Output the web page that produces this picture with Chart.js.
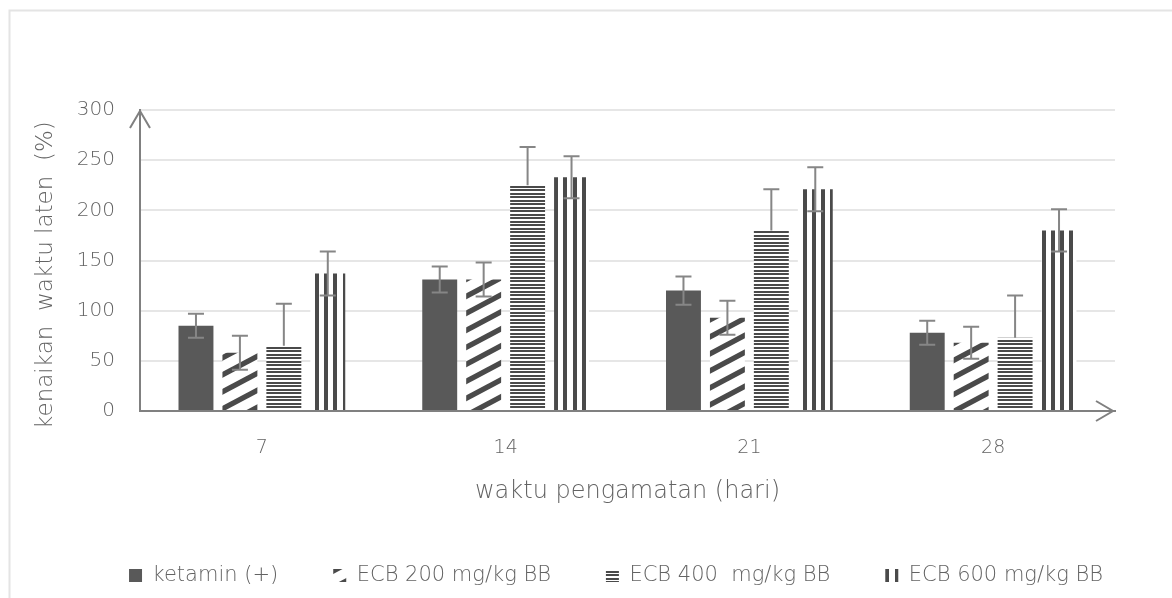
<!DOCTYPE html>
<html><head><meta charset="utf-8">
<script src="https://cdn.jsdelivr.net/npm/chart.js@4.4.1/dist/chart.umd.min.js"></script>
<style>html,body{margin:0;padding:0;background:#fff;overflow:hidden}#wrap{width:1172px;height:598px;position:relative}canvas{display:block}</style>
</head><body><div id="wrap"><canvas id="c" width="1172" height="598"></canvas></div>
<script>
const categories = ['7', '14', '21', '28'];
const seriesNames = ['ketamin (+)', 'ECB 200 mg/kg BB', 'ECB 400  mg/kg BB', 'ECB 600 mg/kg BB'];
const ketamin = [85, 131, 120, 78];
const ecb200 = [58, 131, 93, 68];
const ecb400 = [65, 225, 180, 73];
const ecb600 = [137, 233, 221, 180];
const ketaminErr = [12, 13, 14, 12];
const ecb200Err = [17, 17, 17, 16];
const ecb400Err = [42, 38, 41, 42];
const ecb600Err = [22, 21, 22, 21];
const yTicks = [0, 50, 100, 150, 200, 250, 300];
const xTitle = 'waktu pengamatan (hari)';
const yTitle = 'kenaikan  waktu laten  (%)';

const TXT = '#636363';
const FONT = "'DejaVu Sans'";
const W = 200;
const STRIPE = '#4a4a4a';

function tile(w, h, draw) {
  const c = document.createElement('canvas');
  c.width = w; c.height = h;
  const g = c.getContext('2d');
  g.fillStyle = '#ffffff'; g.fillRect(0, 0, w, h);
  g.fillStyle = STRIPE;
  draw(g, w, h);
  return g.createPattern(c, 'repeat');
}
const diagPattern = tile(32, 17, (g, w, h) => {
  const t = 6;
  for (let k = -1; k <= 1; k++) {
    g.beginPath();
    g.moveTo(0, h + k * h - t / 2); g.lineTo(w, k * h - t / 2);
    g.lineTo(w, k * h + t / 2); g.lineTo(0, h + k * h + t / 2);
    g.closePath(); g.fill();
  }
});
const horizPattern = tile(4, 7, (g, w) => {
  g.fillRect(0, 0, w, 2); g.fillRect(0, 4, w, 2);
});
const vertPattern = tile(46, 4, (g, w, h) => {
  [2, 11, 21, 30, 39].forEach(x => g.fillRect(x, 0, 4, h));
});

const decor = {
  id: 'decor',
  beforeDraw(chart) {
    const c = chart.ctx;
    c.save();
    c.fillStyle = '#fff'; c.fillRect(0, 0, chart.width, chart.height);
    c.strokeStyle = '#e4e4e4'; c.lineWidth = 2;
    c.beginPath(); c.moveTo(9.5, chart.height); c.lineTo(9.5, 10.5); c.lineTo(chart.width, 10.5); c.stroke();
    c.restore();
  },
  afterLayout(chart) {
    const lg = chart.legend;
    lg.left = 60; lg.right = 1172; lg.top = 510; lg.bottom = 598;
    lg.width = lg.right - lg.left; lg.height = lg.bottom - lg.top;
  },
  afterDatasetsDraw(chart) {
    const c = chart.ctx, ys = chart.scales.y;
    chart.data.datasets.forEach((ds, i) => {
      chart.getDatasetMeta(i).data.forEach((bar, j) => {
        const v = ds.data[j], e = ds.errors[j];
        const x = bar.x;
        const yt = ys.getPixelForValue(v + e);
        const yb = ys.getPixelForValue(ds.errMode === 'plus' ? v : v - e);
        c.save();
        c.strokeStyle = '#868686'; c.lineWidth = 2;
        c.beginPath();
        c.moveTo(x, yt); c.lineTo(x, yb);
        c.moveTo(x - 8, yt); c.lineTo(x + 8, yt);
        if (ds.errMode !== 'plus') { c.moveTo(x - 8, yb); c.lineTo(x + 8, yb); }
        c.stroke();
        c.restore();
      });
    });
  },
  afterDraw(chart) {
    const c = chart.ctx, a = chart.chartArea;
    c.save();
    c.strokeStyle = '#808080'; c.lineWidth = 2; c.lineJoin = 'miter';
    c.beginPath();
    c.moveTo(a.left - 10, a.top + 18); c.lineTo(a.left, a.top + 1); c.lineTo(a.left + 10, a.top + 18);
    c.moveTo(a.right - 19, a.bottom - 10); c.lineTo(a.right - 2, a.bottom); c.lineTo(a.right - 19, a.bottom + 10);
    c.stroke();
    c.restore();
  }
};

Chart.defaults.font.family = FONT;
Chart.defaults.font.weight = W;
Chart.defaults.color = TXT;

new Chart(document.getElementById('c'), {
  type: 'bar',
  data: {
    labels: categories,
    datasets: [
      { label: seriesNames[0], data: ketamin, errors: ketaminErr, errMode: 'both', backgroundColor: '#595959' },
      { label: seriesNames[1], data: ecb200, errors: ecb200Err, errMode: 'both', backgroundColor: diagPattern },
      { label: seriesNames[2], data: ecb400, errors: ecb400Err, errMode: 'plus', backgroundColor: horizPattern },
      { label: seriesNames[3], data: ecb600, errors: ecb600Err, errMode: 'both', backgroundColor: vertPattern }
    ]
  },
  options: {
    responsive: false,
    animation: false,
    devicePixelRatio: 1,
    layout: { padding: { left: 10, top: 110, right: 57, bottom: 0 } },
    datasets: { bar: { categoryPercentage: 0.721, barPercentage: 0.795, borderWidth: 0 } },
    scales: {
      x: {
        grid: { display: false, drawTicks: false },
        border: { display: true, color: '#808080', width: 2, z: 1 },
        ticks: { color: TXT, font: { size: 19, weight: W }, padding: 26 },
        title: { display: true, text: xTitle, color: TXT, font: { size: 24, weight: W }, padding: { top: 0, bottom: 52 } },
        afterFit(s) { s.height = 147; }
      },
      y: {
        min: 0, max: 300,
        afterBuildTicks(s) { s.ticks = yTicks.map(v => ({ value: v })); },
        grid: { color: '#e6e6e6', lineWidth: 2, drawTicks: false },
        border: { display: true, color: '#808080', width: 2, z: 1 },
        ticks: { color: TXT, font: { size: 20, weight: W }, padding: 25 },
        title: { display: true, text: yTitle + '    ', color: TXT, font: { size: 23, weight: W }, padding: { top: 22, bottom: 0 } },
        afterFit(s) { s.width = 130; }
      }
    },
    plugins: {
      legend: {
        position: 'bottom', maxHeight: 40,
        labels: { boxWidth: 13, boxHeight: 13, padding: 55, color: TXT, font: { size: 21, weight: W } }
      },
      tooltip: { enabled: false }
    }
  },
  plugins: [decor]
});
</script></body></html>
